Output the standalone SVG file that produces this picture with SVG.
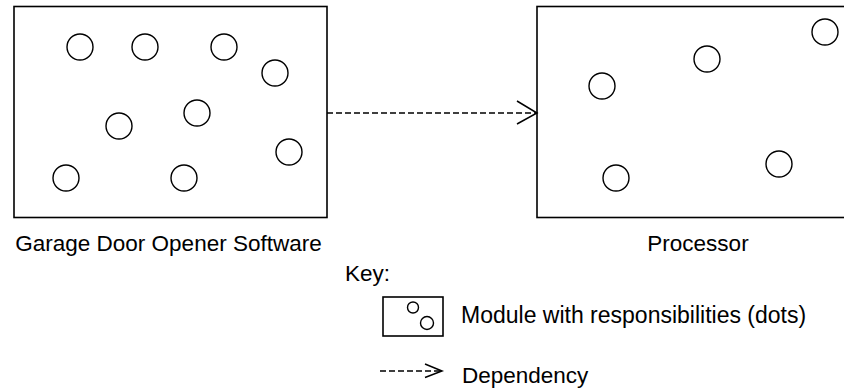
<svg xmlns="http://www.w3.org/2000/svg" width="844" height="390" viewBox="0 0 844 390">
<style>
.box{fill:none;stroke:#000;stroke-width:1.6}
.dot{fill:none;stroke:#000;stroke-width:1.4}
.dep{fill:none;stroke:#000;stroke-width:1.4;stroke-dasharray:6 3}
.head{fill:none;stroke:#000;stroke-width:1.5}
text{font-family:"Liberation Sans",Arial,sans-serif;font-size:22.5px;fill:#000}
</style>
<rect width="844" height="390" fill="#fff"/>
<g id="garage-door-opener-software">
<rect class="box" x="14" y="6.5" width="313" height="211"/>
<circle class="dot" cx="80" cy="47" r="13"/>
<circle class="dot" cx="145" cy="47" r="13"/>
<circle class="dot" cx="224" cy="47" r="13"/>
<circle class="dot" cx="275" cy="73" r="13"/>
<circle class="dot" cx="197" cy="113" r="13"/>
<circle class="dot" cx="119" cy="126" r="13"/>
<circle class="dot" cx="289" cy="152" r="13"/>
<circle class="dot" cx="66" cy="178" r="13"/>
<circle class="dot" cx="184" cy="178" r="13"/>
<text x="168.5" y="251" text-anchor="middle">Garage Door Opener Software</text>
</g>
<g id="processor">
<rect class="box" x="537" y="6.5" width="320" height="211"/>
<circle class="dot" cx="825" cy="32" r="13"/>
<circle class="dot" cx="707" cy="59" r="13"/>
<circle class="dot" cx="602" cy="86" r="13"/>
<circle class="dot" cx="779" cy="164" r="13"/>
<circle class="dot" cx="616" cy="178" r="13"/>
<text x="698" y="251" text-anchor="middle">Processor</text>
</g>
<g id="connectors">
<line class="dep" x1="327" y1="113" x2="536" y2="113"/>
<polyline class="head" points="517,101 537,113 517,124"/>
</g>
<g id="key">
<text x="345" y="281">Key:</text>
<rect class="box" x="383" y="297" width="60" height="39" stroke-width="1.3"/>
<circle class="dot" cx="413" cy="307.5" r="5.5" stroke-width="1.2"/>
<circle class="dot" cx="427" cy="323" r="6.5" stroke-width="1.2"/>
<text x="461" y="323" font-size="23" style="font-size:23px">Module with responsibilities (dots)</text>
<line class="dep" x1="380" y1="371" x2="441" y2="371" stroke-width="1.2" stroke-dasharray="5 2.5"/>
<polyline class="head" points="425,364 442,371 425,377.5" stroke-width="1.3"/>
<text x="462" y="383">Dependency</text>
</g>
</svg>
